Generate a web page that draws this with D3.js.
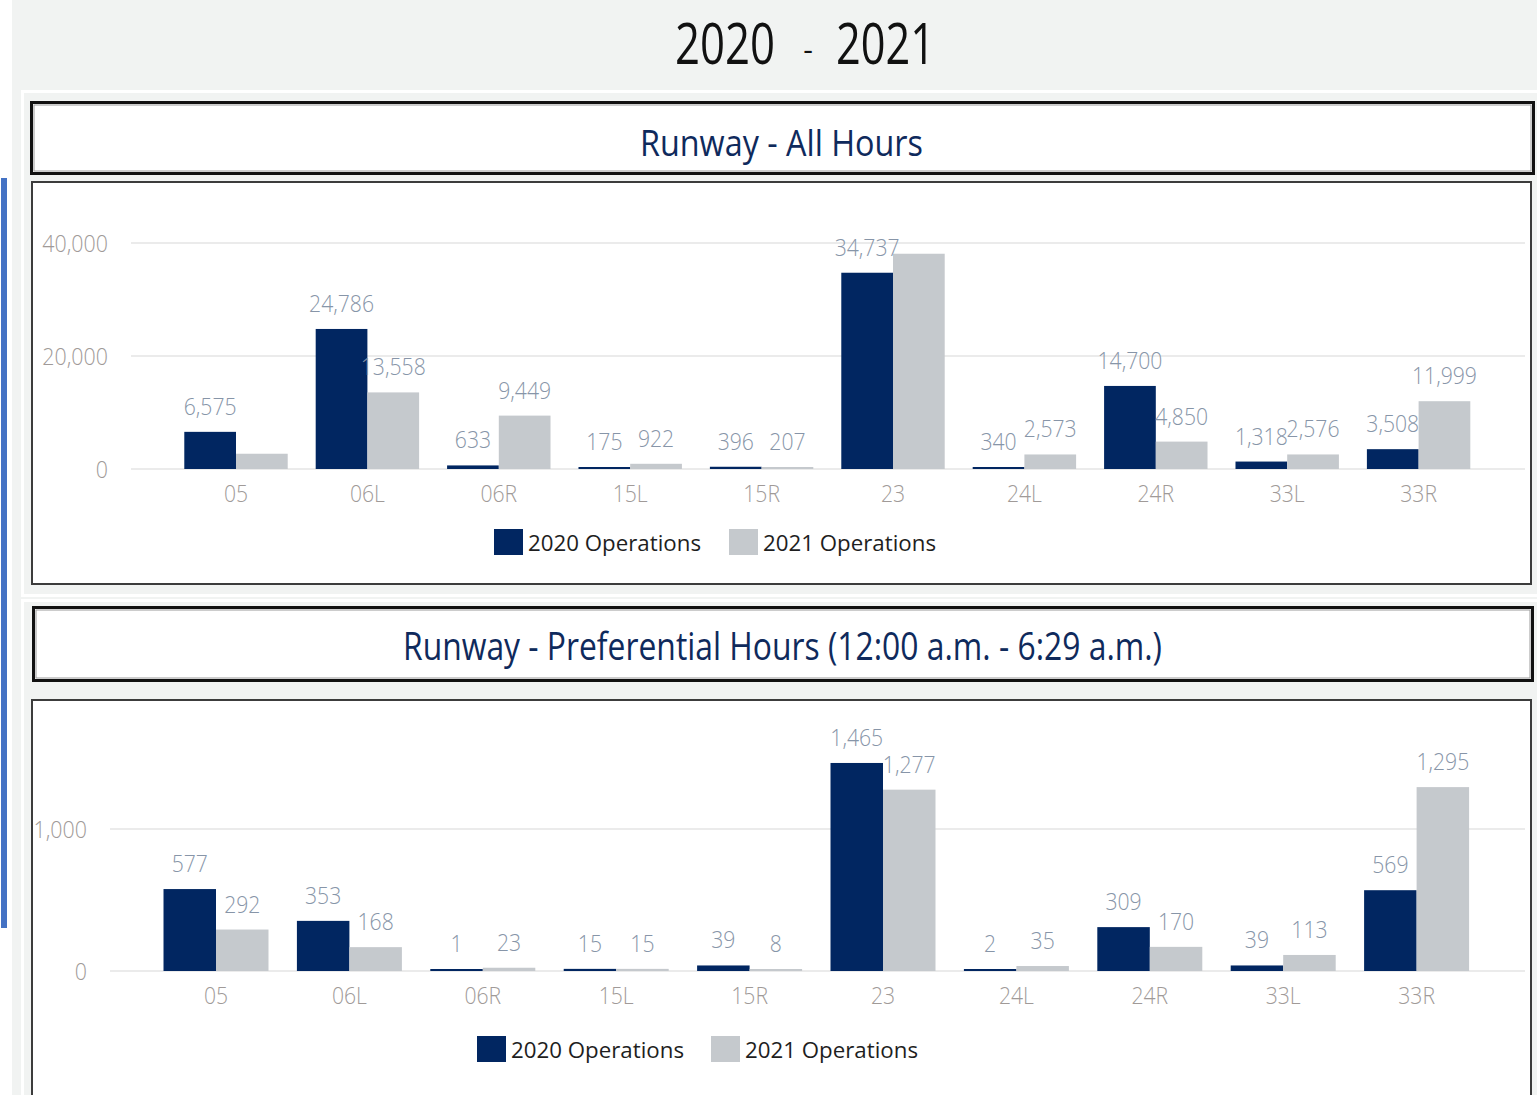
<!DOCTYPE html>
<html>
<head>
<meta charset="utf-8">
<script src="https://cdn.jsdelivr.net/npm/d3@7"></script>
<style>
  html, body { margin: 0; padding: 0; background: #ffffff; }
  svg { display: block; font-family: "Open Sans", "Noto Sans", sans-serif; }
</style>
</head>
<body>
<svg id="chart" width="1537" height="1095"></svg>
<script>
// ---------------- DATA ----------------
const runways = ["05", "06L", "06R", "15L", "15R", "23", "24L", "24R", "33L", "33R"];
const seriesNames = ["2020 Operations", "2021 Operations"];

const allHours2020 = [6575, 24786, 633, 175, 396, 34737, 340, 14700, 1318, 3508];
const allHours2021 = [2700, 13558, 9449, 922, 207, 38100, 2573, 4850, 2576, 11999];
const allHoursHiddenLabels2021 = ["05", "23"];
const allHoursTicks = [0, 20000, 40000];

const pref2020 = [577, 353, 1, 15, 39, 1465, 2, 309, 39, 569];
const pref2021 = [292, 168, 23, 15, 8, 1277, 35, 170, 113, 1295];
const prefTicks = [0, 1000];

const pageTitleLeft = "2020";
const pageTitleRight = "2021";
const panelTitles = ["Runway - All Hours", "Runway - Preferential Hours (12:00 a.m. - 6:29 a.m.)"];

// ---------------- STYLE ----------------
const C2020 = "#012661";
const C2021 = "#c5c9cd";
const LABEL_COLOR = "#8795a8";
const AXIS_COLOR = "#a09a98";
const GRID_COLOR = "#ebebeb";
const TITLE_NAVY = "#0f2a5c";

const svg = d3.select("#chart");
const fmt = d3.format(",");

function squeeze(sel, k) {
  sel.each(function () {
    const L = this.getComputedTextLength();
    d3.select(this).attr("textLength", L * k).attr("lengthAdjust", "spacingAndGlyphs");
  });
}

// ---------------- BACKGROUND ----------------
svg.append("rect").attr("x", 12).attr("y", 0).attr("width", 1525).attr("height", 1095).attr("fill", "#f1f3f2");
svg.append("rect").attr("x", 1).attr("y", 178).attr("width", 6).attr("height", 750).attr("fill", "#4472c4");
// white panel outlines
svg.append("rect").attr("x", 22.5).attr("y", 91.5).attr("width", 1530).attr("height", 504)
  .attr("fill", "none").attr("stroke", "#ffffff").attr("stroke-width", 3);
svg.append("rect").attr("x", 22.5).attr("y", 600.5).attr("width", 1530).attr("height", 520)
  .attr("fill", "none").attr("stroke", "#ffffff").attr("stroke-width", 3);

// ---------------- PAGE TITLE ----------------
svg.append("text").attr("x", 675).attr("y", 64).attr("font-size", 56).attr("fill", "#111")
  .attr("textLength", 100).attr("lengthAdjust", "spacingAndGlyphs").text(pageTitleLeft);
svg.append("text").attr("x", 808).attr("y", 60).attr("font-size", 30).attr("fill", "#111")
  .attr("text-anchor", "middle").text("-");
svg.append("text").attr("x", 836).attr("y", 64).attr("font-size", 56).attr("fill", "#111")
  .attr("textLength", 99).attr("lengthAdjust", "spacingAndGlyphs").text(pageTitleRight);

// ---------------- PANEL BOXES ----------------
function titleBox(x, y, w, h, label, tx, tw, baseline, fs) {
  svg.append("rect").attr("x", x).attr("y", y).attr("width", w).attr("height", h)
    .attr("fill", "#fff").attr("stroke", "#111").attr("stroke-width", 3);
  svg.append("rect").attr("x", x + 2.5).attr("y", y + 2.5).attr("width", w - 5).attr("height", h - 5)
    .attr("fill", "none").attr("stroke", "#9a9a9a").attr("stroke-width", 1);
  svg.append("text").attr("x", tx).attr("y", baseline).attr("font-size", fs).attr("fill", TITLE_NAVY)
    .attr("textLength", tw).attr("lengthAdjust", "spacingAndGlyphs").text(label);
}
function chartBox(x, y, w, h) {
  svg.append("rect").attr("x", x).attr("y", y).attr("width", w).attr("height", h)
    .attr("fill", "#fff").attr("stroke", "#3c3c3c").attr("stroke-width", 2);
}

titleBox(31.5, 102.5, 1502, 71, panelTitles[0], 640, 283, 156, 36);
chartBox(32, 182, 1499, 402);
titleBox(33.5, 607.5, 1499, 73, panelTitles[1], 403, 759, 660, 38);
chartBox(32, 700, 1499, 420);

// ---------------- BAR CHART ----------------
function drawChart(opt) {
  const g = svg.append("g");
  const x = d3.scaleBand().domain(runways).range(opt.xRange).paddingInner(0.213).paddingOuter(0.1065);
  const xs = d3.scaleBand().domain(seriesNames).range([0, x.bandwidth()]);
  const y = d3.scaleLinear().domain(opt.yDomain).range(opt.yRange);

  // gridlines
  g.selectAll(".grid").data(opt.ticks).join("line")
    .attr("x1", opt.gridX[0]).attr("x2", opt.gridX[1])
    .attr("y1", d => y(d)).attr("y2", d => y(d))
    .attr("stroke", GRID_COLOR).attr("stroke-width", 2);

  // y tick labels
  const yt = g.selectAll(".ytick").data(opt.ticks).join("text")
    .attr("x", opt.tickX).attr("y", d => y(d) + 8.5)
    .attr("text-anchor", "end").attr("font-size", 23).attr("font-weight", 300)
    .attr("fill", AXIS_COLOR).text(d => fmt(d));
  squeeze(yt, 0.93);

  const rows = [];
  runways.forEach((r, i) => {
    rows.push({ r, s: seriesNames[0], v: opt.v2020[i], color: C2020, show: true });
    rows.push({ r, s: seriesNames[1], v: opt.v2021[i], color: C2021, show: !(opt.hidden || []).includes(r) });
  });

  const y0 = y(0);
  g.selectAll(".bar").data(rows).join("rect")
    .attr("x", d => x(d.r) + xs(d.s))
    .attr("width", xs.bandwidth())
    .attr("y", d => Math.min(y(d.v), y0 - 2))
    .attr("height", d => Math.max(y0 - y(d.v), 2))
    .attr("fill", d => d.color);

  const vl = g.selectAll(".vlabel").data(rows.filter(d => d.show)).join("text")
    .attr("x", d => x(d.r) + xs(d.s) + xs.bandwidth() / 2)
    .attr("y", d => Math.min(y(d.v), y0 - 2) - 17)
    .attr("text-anchor", "middle").attr("font-size", 23).attr("font-weight", 300)
    .attr("fill", LABEL_COLOR).text(d => fmt(d.v));
  squeeze(vl, 0.92);

  // x axis category labels
  const xl = g.selectAll(".xlabel").data(runways).join("text")
    .attr("x", d => x(d) + x.bandwidth() / 2).attr("y", y0 + 33)
    .attr("text-anchor", "middle").attr("font-size", 23).attr("font-weight", 300)
    .attr("fill", AXIS_COLOR).text(d => d);
  squeeze(xl, 0.92);

  // legend
  const lg = g.selectAll(".legend").data(seriesNames).join("g")
    .attr("transform", (d, i) => `translate(${opt.legendX[i]},${opt.legendY})`);
  lg.append("rect").attr("x", 0).attr("y", 0).attr("width", 29).attr("height", 26)
    .attr("fill", (d, i) => i === 0 ? C2020 : C2021);
  lg.append("text").attr("x", 34).attr("y", 22).attr("font-size", 22)
    .attr("fill", "#1e1e1e").attr("textLength", 173).attr("lengthAdjust", "spacingAndGlyphs")
    .text(d => d);
}

drawChart({
  v2020: allHours2020, v2021: allHours2021, hidden: allHoursHiddenLabels2021,
  ticks: allHoursTicks, yDomain: [0, 40000], yRange: [469, 243],
  xRange: [170.3, 1484.3], gridX: [131, 1525], tickX: 108,
  legendX: [494, 729], legendY: 529
});

drawChart({
  v2020: pref2020, v2021: pref2021, hidden: [],
  ticks: prefTicks, yDomain: [0, 1000], yRange: [971, 829],
  xRange: [149.3, 1483.3], gridX: [110, 1525], tickX: 87,
  legendX: [477, 711], legendY: 1036
});
</script>
</body>
</html>
